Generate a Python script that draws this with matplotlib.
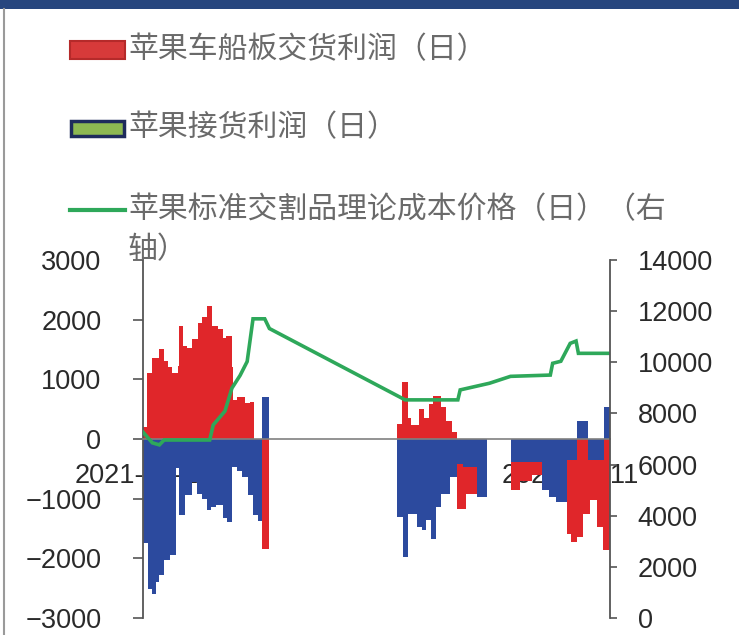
import matplotlib
matplotlib.use('Agg')
import matplotlib.pyplot as plt
import matplotlib.dates as mdates
from matplotlib.patches import Rectangle
from matplotlib.lines import Line2D
import numpy as np
import pandas as pd

nan = np.nan

# 苹果车船板交货利润（日） : segment start dates and values (nan = no bar until next date)
red_dates = ['2021-10-11', '2021-10-14', '2021-10-19', '2021-10-25', '2021-10-29', '2021-11-01',
             '2021-11-05', '2021-11-10', '2021-11-11', '2021-11-14', '2021-11-18', '2021-11-22',
             '2021-11-27', '2021-11-30', '2021-12-05', '2021-12-09', '2021-12-14', '2021-12-18',
             '2021-12-21', '2021-12-26', '2021-12-27', '2021-12-30', '2022-01-06', '2022-01-10',
             '2022-01-14', '2022-01-21', '2022-01-27',
             '2022-05-16', '2022-05-20', '2022-05-25', '2022-05-28', '2022-06-04', '2022-06-08',
             '2022-06-12', '2022-06-16', '2022-06-23', '2022-06-27', '2022-07-02', '2022-07-06',
             '2022-07-14', '2022-07-23',
             '2022-08-21', '2022-08-29', '2022-09-08', '2022-09-17', '2022-10-08', '2022-10-12',
             '2022-10-17', '2022-10-22', '2022-10-28', '2022-11-03', '2022-11-08', '2022-11-14']
red_values = [200, 1100, 1360, 1500, 1300, 1200,
              1100, 1230, 1900, 1560, 1530, 1680,
              1950, 2050, 2230, 1900, 1840, 1700,
              1720, 1200, 660, 700, 600, 620,
              nan, -1850, nan,
              250, 950, 360, 230, 500, 360,
              580, 720, 530, 300, 110, -1170,
              -920, nan,
              -860, -700, -600, -500, -1600, -1720,
              -1650, -1250, -1030, -1470, -1860, nan]

# 苹果接货利润（日）
blue_dates = ['2021-10-11', '2021-10-15', '2021-10-19', '2021-10-22', '2021-10-25', '2021-10-29',
              '2021-11-03', '2021-11-08', '2021-11-11', '2021-11-16', '2021-11-22', '2021-11-26',
              '2021-11-30', '2021-12-05', '2021-12-08', '2021-12-12', '2021-12-18', '2021-12-22',
              '2021-12-26', '2021-12-30', '2022-01-04', '2022-01-09', '2022-01-13', '2022-01-17',
              '2022-01-21', '2022-01-27',
              '2022-05-16', '2022-05-21', '2022-05-25', '2022-06-02', '2022-06-06', '2022-06-10',
              '2022-06-14', '2022-06-18', '2022-06-23', '2022-06-30', '2022-07-06', '2022-07-11',
              '2022-07-23', '2022-08-01',
              '2022-08-21', '2022-09-17', '2022-09-23', '2022-09-29', '2022-10-08', '2022-10-17',
              '2022-10-26', '2022-11-09', '2022-11-14']
blue_values = [-1750, -2520, -2600, -2400, -2280, -2030,
               -1950, -480, -1270, -940, -720, -920,
               -1000, -1190, -1140, -1100, -1330, -1390,
               -470, -530, -640, -940, -1270, -1380,
               700, nan,
               -1300, -1970, -1250, -1470, -1530, -1360,
               -1670, -1140, -920, -640, -420, -470,
               -970, nan,
               -380, -860, -970, -1050, -360, 310,
               -360, 530, nan]

# 苹果标准交割品理论成本价格（日）（右轴）
cost_dates = ['2021-10-11', '2021-10-19', '2021-10-25', '2021-10-29', '2021-12-07', '2021-12-10',
              '2021-12-20', '2021-12-26', '2022-01-02', '2022-01-08', '2022-01-13', '2022-01-23',
              '2022-01-27', '2022-05-23', '2022-07-07', '2022-07-09', '2022-08-03', '2022-08-21',
              '2022-09-24', '2022-09-26', '2022-10-03', '2022-10-11', '2022-10-16', '2022-10-18',
              '2022-11-14']
cost_values = [7270, 6850, 6770, 6960, 6960, 7550,
               8090, 8990, 9490, 10030, 11700, 11700,
               11320, 8530, 8530, 8920, 9180, 9450,
               9500, 9960, 10040, 10740, 10830, 10350,
               10350]

x_tick_dates = ['2021-10-11', '2022-10-11']
x_tick_labels = ['2021-10-11', '2022-10-11']
left_ticks = [-3000, -2000, -1000, 0, 1000, 2000, 3000]
right_ticks = [0, 2000, 4000, 6000, 8000, 10000, 12000, 14000]
x_start, x_end = '2021-10-11', '2022-11-14'

legend_labels = ['苹果车船板交货利润（日）', '苹果接货利润（日）',
                 '苹果标准交割品理论成本价格（日）（右', '轴）']

RED = '#E0262A'
BLUE = '#2C4A9E'
GREEN = '#2EA85A'

plt.rcParams['font.family'] = ['Liberation Sans', 'Noto Sans CJK SC', 'DejaVu Sans']
plt.rcParams['axes.unicode_minus'] = True

W, H = 739, 635
fig = plt.figure(figsize=(W / 100, H / 100), dpi=100)


def fx(px):
    return px / W


def fy(py):
    return 1 - py / H


ax = fig.add_axes([fx(143), fy(618), fx(610) - fx(143), fy(260) - fy(618)])
ax.patch.set_alpha(0)
ax.set_axisbelow(True)


def draw_steps(axis, dates, values, color):
    d = mdates.date2num(pd.to_datetime(dates))
    v = np.array(values, dtype=float)
    i = 0
    n = len(v)
    while i < n - 1:
        if np.isnan(v[i]):
            i += 1
            continue
        j = i
        while j < n - 1 and not np.isnan(v[j]):
            j += 1
        axis.stairs(v[i:j], d[i:j + 1], baseline=0, fill=True, color=color,
                    linewidth=0, zorder=1)
        i = j


draw_steps(ax, red_dates, red_values, RED)
draw_steps(ax, blue_dates, blue_values, BLUE)

ax.set_xlim(mdates.date2num(pd.Timestamp(x_start)), mdates.date2num(pd.Timestamp(x_end)))
ax.set_ylim(-3000, 3000)
ax.set_yticks(left_ticks)
ax.set_xticks(mdates.date2num(pd.to_datetime(x_tick_dates)))
ax.set_xticklabels(x_tick_labels)

for s in ['top', 'right']:
    ax.spines[s].set_visible(False)
ax.spines['bottom'].set_position(('data', 0))
ax.spines['bottom'].set_color('#808080')
ax.spines['bottom'].set_linewidth(1.2)
ax.spines['left'].set_color('#555555')
ax.spines['left'].set_linewidth(1.3)

ax.tick_params(axis='y', direction='out', length=7, width=1.2, color='#555555',
               labelsize=19.5, labelcolor='#2a2a2a', pad=23)
ax.tick_params(axis='x', length=0, labelsize=19.5, labelcolor='#2a2a2a', pad=17)

ax2 = ax.twinx()
ax2.patch.set_alpha(0)
cd = mdates.date2num(pd.to_datetime(cost_dates))
ax2.plot(cd, cost_values, color=GREEN, lw=2.6, solid_joinstyle='miter')
ax2.set_ylim(0, 14000)
ax2.set_yticks(right_ticks)
ax2.set_xlim(ax.get_xlim())
for s in ['top', 'left', 'bottom']:
    ax2.spines[s].set_visible(False)
ax2.spines['right'].set_color('#555555')
ax2.spines['right'].set_linewidth(1.3)
ax2.tick_params(axis='y', direction='out', length=5, width=1.2, color='#555555',
                labelsize=19.5, labelcolor='#2a2a2a', pad=15)

# frame and header band
fig.patches.append(Rectangle((0, fy(9)), 1, 1 - fy(9), transform=fig.transFigure,
                             facecolor='#27467E', edgecolor='none', zorder=0))
fig.lines.append(Line2D([fx(4), fx(4)], [0, fy(9)], transform=fig.transFigure,
                        color='#9a9a9a', lw=1.5))

# legend (manual)
leg_font = dict(family=['Noto Sans CJK SC', 'DejaVu Sans'], fontsize=21.5, color='#6a6a6a',
                fontweight='light', va='center', ha='left')
fig.patches.append(Rectangle((fx(70), fy(59)), fx(125) - fx(70), fy(41) - fy(59),
                             transform=fig.transFigure, facecolor='#D73A3A',
                             edgecolor='#B52A2A', lw=1.5))
fig.text(fx(128), fy(50), legend_labels[0], **leg_font)
fig.patches.append(Rectangle((fx(71), fy(136)), fx(124) - fx(71), fy(121) - fy(136),
                             transform=fig.transFigure, facecolor='#8DB852',
                             edgecolor='#1E2B5C', lw=2.5))
fig.text(fx(128), fy(128), legend_labels[1], **leg_font)
fig.lines.append(Line2D([fx(70), fx(125)], [fy(210), fy(210)], transform=fig.transFigure,
                        color=GREEN, lw=3))
fig.text(fx(128), fy(210), legend_labels[2], **leg_font)
fig.text(fx(128), fy(250), legend_labels[3], **leg_font)

fig.savefig('out.png', dpi=100)
